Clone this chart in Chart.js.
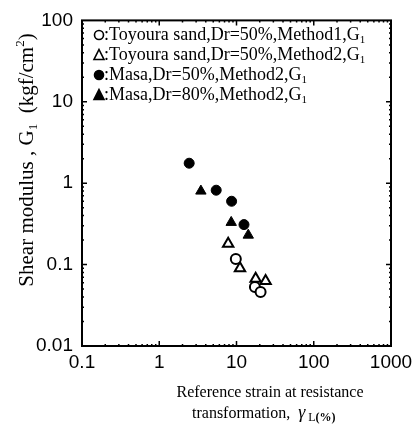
<!DOCTYPE html>
<html>
<head>
<meta charset="utf-8">
<script src="https://cdn.jsdelivr.net/npm/chart.js@4"></script>
<style>
    html, body { margin: 0; padding: 0; background: #fff; }
    #wrap { width: 420px; height: 436px; }
</style>
</head>
<body>
<div id="wrap"><canvas id="chart" width="420" height="436"></canvas></div>
<script>
// data
const toyouraM1X = [9.8, 17.3, 20.5];
const toyouraM1Y = [0.117, 0.053, 0.046];
const toyouraM2X = [7.8, 11.1, 17.7, 23.8];
const toyouraM2Y = [0.18, 0.09, 0.067, 0.063];
const masa50X = [2.44, 5.46, 8.64, 12.5];
const masa50Y = [1.76, 0.82, 0.60, 0.31];
const masa80X = [3.46, 8.54, 14.2];
const masa80Y = [0.80, 0.33, 0.23];

const xTicks = [0.1, 1, 10, 100, 1000];
const yTicks = [0.01, 0.1, 1, 10, 100];

const legendLabels = [
    "Toyoura sand,Dr=50%,Method1,G",
    "Toyoura sand,Dr=50%,Method2,G",
    "Masa,Dr=50%,Method2,G",
    "Masa,Dr=80%,Method2,G"
];

const SERIF = "'Liberation Serif', 'Times New Roman', serif";
const SANS = "'Liberation Sans', Arial, sans-serif";

function pts(xs, ys) {
    return xs.map((x, i) => ({ x: x, y: ys[i] }));
}

function isDecade(v) {
    const l = Math.log10(v);
    return Math.abs(l - Math.round(l)) < 1e-6;
}

// draws a run of text pieces; each piece may be shifted up/down and smaller
function drawRuns(ctx, runs, x, y) {
    let cx = x;
    runs.forEach(r => {
        ctx.font = (r.style || "") + " " + r.size + "px " + SERIF;
        ctx.fillText(r.t, cx, y + (r.dy || 0));
        cx += ctx.measureText(r.t).width;
    });
    return cx - x;
}

function runsWidth(ctx, runs) {
    let w = 0;
    runs.forEach(r => {
        ctx.font = (r.style || "") + " " + r.size + "px " + SERIF;
        w += ctx.measureText(r.t).width;
    });
    return w;
}

const framePlugin = {
    id: "frame",
    afterDraw(chart) {
        const ctx = chart.ctx;
        const a = chart.chartArea;
        const xs = chart.scales.x;
        const ys = chart.scales.y;

        ctx.save();
        ctx.strokeStyle = "#000";
        ctx.lineWidth = 2;
        ctx.strokeRect(a.left, a.top, a.right - a.left, a.bottom - a.top);

        // inward ticks, major and minor
        ctx.lineWidth = 1.5;
        ctx.beginPath();
        for (let d = 0.1; d < 1000; d *= 10) {
            for (let k = 1; k < 10; k++) {
                const px = xs.getPixelForValue(d * k);
                const len = k === 1 ? 5 : 2;
                ctx.moveTo(px, a.bottom); ctx.lineTo(px, a.bottom - len);
                ctx.moveTo(px, a.top); ctx.lineTo(px, a.top + len);
            }
        }
        for (let d = 0.01; d < 100; d *= 10) {
            for (let k = 1; k < 10; k++) {
                const py = ys.getPixelForValue(d * k);
                const len = k === 1 ? 5 : 2;
                ctx.moveTo(a.left, py); ctx.lineTo(a.left + len, py);
                ctx.moveTo(a.right, py); ctx.lineTo(a.right - len, py);
            }
        }
        ctx.stroke();

        ctx.fillStyle = "#000";
        ctx.textBaseline = "alphabetic";
        ctx.textAlign = "left";

        // legend inside the plot
        chart.data.datasets.forEach((ds, i) => {
            const base = 40 + i * 20;
            ctx.fillStyle = ds.backgroundColor;
            ctx.strokeStyle = "#000";
            ctx.lineWidth = 1.6;
            ctx.beginPath();
            if (ds.pointStyle === "circle") {
                ctx.arc(99, base - 5, 4.5, 0, Math.PI * 2);
            } else {
                ctx.moveTo(99, base - 10.5);
                ctx.lineTo(104, base - 0.5);
                ctx.lineTo(94, base - 0.5);
                ctx.closePath();
            }
            ctx.fill();
            ctx.stroke();
            ctx.fillStyle = "#000";
            drawRuns(ctx, [
                { t: ":" + legendLabels[i], size: 18 },
                { t: "1", size: 11, dy: 3 }
            ], 104, base);
        });

        // y axis title, rotated
        const yRuns = [
            { t: "Shear modulus , G", size: 21 },
            { t: "1", size: 13, dy: 4 },
            { t: "  (kgf/cm", size: 21 },
            { t: "2", size: 13, dy: -9 },
            { t: ")", size: 21 }
        ];
        ctx.save();
        ctx.translate(33, 160);
        ctx.rotate(-Math.PI / 2);
        drawRuns(ctx, yRuns, -runsWidth(ctx, yRuns) / 2, 0);
        ctx.restore();

        // x axis title, two lines
        const l1 = [{ t: "Reference strain at resistance", size: 16 }];
        drawRuns(ctx, l1, 270 - runsWidth(ctx, l1) / 2, 397);
        drawRuns(ctx, [
            { t: "transformation,  ", size: 16 },
            { t: "\u03b3", size: 18, style: "italic" },
            { t: " L", size: 12, dy: 3 },
            { t: "(%)", size: 12, dy: 3, style: "bold" }
        ], 192, 418);

        ctx.restore();
    }
};

new Chart(document.getElementById("chart"), {
    type: "scatter",
    data: {
        datasets: [
            {
                label: legendLabels[0],
                data: pts(toyouraM1X, toyouraM1Y),
                pointStyle: "circle",
                pointRadius: 5,
                borderWidth: 2,
                borderColor: "#000",
                backgroundColor: "#fff"
            },
            {
                label: legendLabels[1],
                data: pts(toyouraM2X, toyouraM2Y),
                pointStyle: "triangle",
                pointRadius: 6,
                borderWidth: 2,
                borderColor: "#000",
                backgroundColor: "#fff"
            },
            {
                label: legendLabels[2],
                data: pts(masa50X, masa50Y),
                pointStyle: "circle",
                pointRadius: 5,
                borderWidth: 1,
                borderColor: "#000",
                backgroundColor: "#000"
            },
            {
                label: legendLabels[3],
                data: pts(masa80X, masa80Y),
                pointStyle: "triangle",
                pointRadius: 6,
                borderWidth: 1,
                borderColor: "#000",
                backgroundColor: "#000"
            }
        ]
    },
    options: {
        responsive: false,
        animation: false,
        layout: { padding: { top: 16, right: 29, left: 0, bottom: 0 } },
        plugins: {
            legend: { display: false },
            tooltip: { enabled: false }
        },
        scales: {
            x: {
                type: "logarithmic",
                min: 0.1,
                max: 1000,
                afterFit: s => { s.height = 90; },
                afterBuildTicks: s => { s.ticks = xTicks.map(v => ({ value: v })); },
                grid: { display: false, drawTicks: false },
                border: { display: false },
                ticks: {
                    padding: 5,
                    maxRotation: 0,
                    autoSkip: false,
                    color: "#000",
                    font: { family: SANS, size: 19 },
                    callback: v => isDecade(v) ? String(v) : ""
                }
            },
            y: {
                type: "logarithmic",
                min: 0.01,
                max: 100,
                afterFit: s => { s.width = 82; },
                afterBuildTicks: s => { s.ticks = yTicks.map(v => ({ value: v })); },
                grid: { display: false, drawTicks: false },
                border: { display: false },
                ticks: {
                    padding: 9,
                    autoSkip: false,
                    color: "#000",
                    font: { family: SANS, size: 19 },
                    callback: v => isDecade(v) ? String(v) : ""
                }
            }
        }
    },
    plugins: [framePlugin]
});
</script>
</body>
</html>
